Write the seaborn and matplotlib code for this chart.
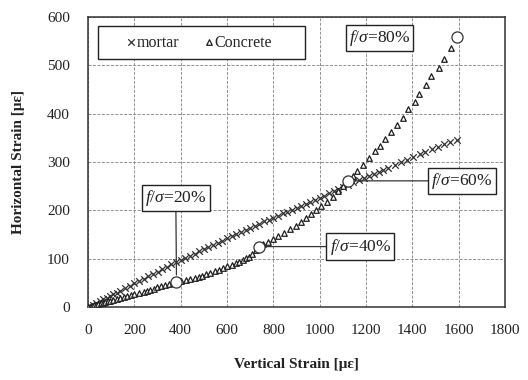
import matplotlib
matplotlib.use("Agg")
import matplotlib.pyplot as plt
from matplotlib.patches import Rectangle
import seaborn as sns
import pandas as pd

# ---------------- data ----------------
mortar_x = [0, 10, 20, 35, 50, 65, 80, 95, 110, 125, 140, 160, 180, 200, 220, 240, 260, 280,
            300, 320, 340, 360, 382, 400, 420, 440, 460, 480, 500, 520, 540, 560, 580, 600,
            620, 640, 660, 680, 700, 720, 740, 760, 780, 800, 820, 840, 860, 880, 900, 920,
            940, 960, 980, 1000, 1020, 1040, 1060, 1080, 1100, 1123, 1145, 1168, 1190, 1212,
            1235, 1255, 1274, 1295, 1324, 1350, 1375, 1404, 1433, 1454, 1483, 1512, 1536,
            1563, 1591]
mortar_y = [0, 2.5, 5, 8.5, 12, 16, 19.5, 23, 27, 30, 34, 39, 44, 49, 54, 58.5, 63.5, 68,
            73, 78, 83, 88, 93, 97, 101.5, 106, 110.5, 115, 119.5, 124, 128.5, 133, 137.5, 142,
            146.5, 151, 155, 159.5, 164, 168, 172.5, 177, 181, 185, 189, 193.5, 197.5, 201.5,
            205.5, 209.5, 214, 218, 222, 226, 230.5, 235, 239, 243.5, 248, 253, 258, 262.5,
            267, 271.5, 276, 280, 284, 288, 294, 299.5, 305, 311, 317, 321, 327, 332, 337,
            341.5, 346]

concrete_x = [0, 8, 16, 25, 35, 45, 55, 65, 75, 85, 95, 110, 125, 140, 155, 170, 185, 200,
              220, 240, 255, 269, 284, 298, 316, 334, 350, 366, 382, 400, 421, 440, 460, 478,
              493, 510, 528, 547, 565, 583, 600, 620, 637, 652, 668, 682, 695, 710, 724, 740,
              757, 775, 797, 820, 847, 872, 898, 920, 941, 962, 985, 1006, 1030, 1057, 1080,
              1100, 1123, 1145, 1162, 1187, 1211, 1240, 1262, 1282, 1307, 1333, 1360, 1381,
              1411, 1430, 1461, 1480, 1513, 1538, 1567, 1591]
concrete_y = [0, 1, 2, 3.5, 5, 6, 7.5, 9, 10, 11.5, 13, 15, 17, 19, 21, 23, 25, 27,
              29.5, 32, 34, 35.5, 38, 41, 43.5, 46, 48, 50, 52, 54, 56, 58.5, 61, 63,
              65, 67.5, 70.5, 73.5, 77, 80.5, 84, 87.5, 91, 94, 98, 101, 104, 110, 117, 124,
              130, 135, 140, 147, 154, 161, 168, 176, 184, 192, 201, 209, 218, 228, 240,
              250, 261, 272, 282, 294, 308, 322, 334, 347, 363, 376, 392, 409,
              425, 440, 460, 477, 495, 513, 535, 556]

stage_x = [382, 737, 1122, 1591]
stage_y = [52, 125, 261, 558]
stage_labels = ["20%", "40%", "60%", "80%"]
label_x = [379, 1175, 1615, 1258]
label_y = [225, 125, 261, 556]

x_ticks = [0, 200, 400, 600, 800, 1000, 1200, 1400, 1600, 1800]
y_ticks = [0, 100, 200, 300, 400, 500, 600]

# ---------------- style ----------------
sns.set_theme(style="white")
plt.rcParams["font.family"] = ["Liberation Serif", "DejaVu Serif"]
plt.rcParams["mathtext.fontset"] = "custom"
plt.rcParams["mathtext.rm"] = "Liberation Serif"
plt.rcParams["mathtext.it"] = "Liberation Serif:italic"

fig = plt.figure(figsize=(5.28, 3.80), dpi=100)
ax = fig.add_axes([88 / 528, 73 / 380, 417 / 528, 290 / 380])

df_m = pd.DataFrame({"x": mortar_x, "y": mortar_y})
df_c = pd.DataFrame({"x": concrete_x, "y": concrete_y})
df_s = pd.DataFrame({"x": stage_x, "y": stage_y})

sns.scatterplot(data=df_m, x="x", y="y", ax=ax, marker="x", s=22, color="#333333",
                linewidth=0.9, label="mortar", zorder=3)
sns.scatterplot(data=df_c, x="x", y="y", ax=ax, marker="^", s=16, facecolor="white",
                edgecolor="#1e1e1e", linewidth=0.9, label="Concrete", zorder=4)
sns.scatterplot(data=df_s, x="x", y="y", ax=ax, marker="o", s=64, facecolor="white",
                edgecolor="#333333", linewidth=0.9, zorder=6, legend=False)

for sx, sy, lx, ly, lab in zip(stage_x, stage_y, label_x, label_y, stage_labels):
    arrow = None
    if lab != "80%":
        arrow = dict(arrowstyle="-", color="#333333", lw=0.9, shrinkA=0, shrinkB=5)
    ax.annotate(r"$f/σ$=" + lab, xy=(sx, sy), xytext=(lx, ly), textcoords="data",
                ha="center", va="center", fontsize=12.5, color="#222222",
                bbox=dict(boxstyle="square,pad=0.18", fc="white", ec="#222222", lw=1.0),
                arrowprops=arrow, zorder=7)

ax.set_xlim(0, 1800)
ax.set_ylim(0, 600)
ax.set_xticks(x_ticks)
ax.set_yticks(y_ticks)
ax.set_xticklabels([str(t) for t in x_ticks], fontsize=11, color="#222222")
ax.set_yticklabels([str(t) for t in y_ticks], fontsize=11, color="#222222")
ax.tick_params(axis="both", length=0)
ax.tick_params(axis="x", pad=12)
ax.tick_params(axis="y", pad=13)
ax.grid(True, linestyle=(0, (3, 1.6)), color="#909090", linewidth=0.7)
for sp in ax.spines.values():
    sp.set_color("#333333")
    sp.set_linewidth(1.1)

ax.set_xlabel("Vertical Strain [με]", fontsize=11, fontweight="bold", color="#222222")
ax.set_ylabel("Horizontal Strain [με]", fontsize=11, fontweight="bold", color="#222222")
ax.xaxis.set_label_coords(0.5, -0.175)
ax.yaxis.set_label_coords(-0.15, 0.5)

# legend frame (drawn separately so the entries can sit centred like the reference)
frame = Rectangle((10 / 417, (307 - 59) / 290), 207 / 417, 33 / 290, transform=ax.transAxes,
                  facecolor="white", edgecolor="#222222", linewidth=1.0, zorder=8)
ax.add_patch(frame)
leg = ax.legend(loc="center left", ncol=2, bbox_to_anchor=(39.5 / 417, 0.912),
                fontsize=11.5, frameon=False, handletextpad=0.1, columnspacing=1.6,
                handlelength=0.5, borderpad=0, borderaxespad=0)
leg.set_zorder(9)

fig.savefig("out.png", dpi=100)
